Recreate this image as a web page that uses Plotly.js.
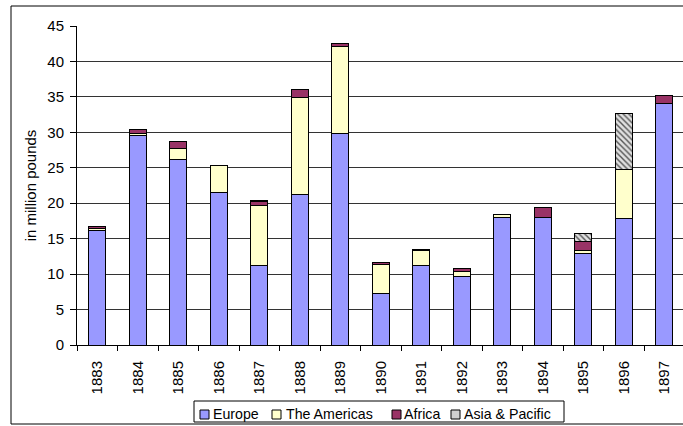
<!DOCTYPE html>
<html>
<head>
<meta charset="utf-8">
<script src="https://cdn.plot.ly/plotly-3.0.1.min.js"></script>
<style>html,body{margin:0;padding:0;overflow:hidden;background:#fff}</style>
</head>
<body>
<div id="chart" style="width:683px;height:426px"></div>
<script>
const years = ["1883","1884","1885","1886","1887","1888","1889","1890","1891","1892","1893","1894","1895","1896","1897"];
const seriesNames = ["Europe", "The Americas", "Africa", "Asia & Pacific"];
const europe   = [16.1, 29.6, 26.2, 21.5, 11.2, 21.3, 29.8, 7.3, 11.2, 9.6, 18.0, 18.0, 12.9, 17.8, 34.1];
const americas = [0.3, 0.25, 1.5, 3.8, 8.5, 13.6, 12.3, 4.1, 2.1, 0.7, 0.4, 0.05, 0.4, 7.0, 0];
const africa   = [0.3, 0.55, 1.0, 0, 0.5, 1.2, 0.45, 0.25, 0.2, 0.45, 0, 1.4, 1.3, 0, 1.1];
const asia     = [0, 0, 0, 0, 0.25, 0, 0, 0, 0, 0, 0, 0, 1.1, 7.9, 0];

const colors = ['#9999FF', '#FFFFCC', '#993366', '#d0d0d0'];
const line = {color: '#000', width: 1};
const values = [europe, americas, africa, asia];
const traces = values.map((v, i) => {
  const marker = {color: colors[i], line: line};
  if (i === 3) marker.pattern = {shape: '\\', fgcolor: '#555', bgcolor: '#e0e0e0', size: 4, solidity: 0.35};
  return {type: 'bar', name: seriesNames[i], x: years, y: v, marker: marker, hoverinfo: 'skip'};
});

const FAM = '"Liberation Sans", Arial, sans-serif';
const font = {family: FAM, size: 15, color: '#000'};
const legFont = {family: FAM, size: 14.2, color: '#000'};

// pixel -> paper helpers (plot area: x 77..683, y 26..345)
const L = 77, W = 606, B = 345, H = 319;
const px = p => (p - L) / W;
const py = p => (B - p) / H;

const shapes = [
  // outer chart border
  {type: 'rect', xref: 'paper', yref: 'paper', x0: px(11), x1: px(690), y0: py(424), y1: py(6),
   line: {color: '#000', width: 1}, fillcolor: 'rgba(0,0,0,0)', layer: 'below'},
  // legend box
  {type: 'rect', xref: 'paper', yref: 'paper', x0: px(194), x1: px(564), y0: py(422), y1: py(401),
   line: {color: '#000', width: 1}, fillcolor: '#fff'}
];
const annotations = [];
const sqX = [200, 272, 392, 451];
const txX = [213, 286, 404, 464];
seriesNames.forEach((n, i) => {
  shapes.push({type: 'rect', xref: 'paper', yref: 'paper', x0: px(sqX[i]), x1: px(sqX[i] + 9),
    y0: py(419), y1: py(410), line: {color: '#000', width: 1}, fillcolor: colors[i]});
  annotations.push({xref: 'paper', yref: 'paper', x: px(txX[i] - 2), y: py(413.5), xanchor: 'left',
    yanchor: 'middle', text: n, showarrow: false, font: legFont});
});

const layout = {
  width: 683, height: 426,
  margin: {l: L, r: 0, t: 26, b: 426 - B, pad: 0},
  paper_bgcolor: '#fff', plot_bgcolor: '#fff',
  font: font,
  barmode: 'stack', bargap: 0.58,
  showlegend: false,
  xaxis: {
    type: 'category', range: [-0.5, 14.46], automargin: false,
    tickangle: -90, ticks: 'outside', tickson: 'boundaries', ticklen: 5,
    ticklabelstandoff: 9,
    tickcolor: '#000', showline: true, linecolor: '#000', linewidth: 1,
    showgrid: false, tickfont: font
  },
  yaxis: {
    range: [0, 45], dtick: 5, ticks: 'outside', ticklen: 6, tickcolor: '#000', automargin: false,
    ticklabelstandoff: 3,
    showline: true, linecolor: '#000', linewidth: 1,
    showgrid: true, gridcolor: '#333', gridwidth: 1, zeroline: false,
    tickfont: font,
    title: {text: 'in million pounds', font: font, standoff: 7}
  },
  shapes: shapes,
  annotations: annotations
};
Plotly.newPlot('chart', traces, layout, {displayModeBar: false, staticPlot: true});
</script>
</body>
</html>
